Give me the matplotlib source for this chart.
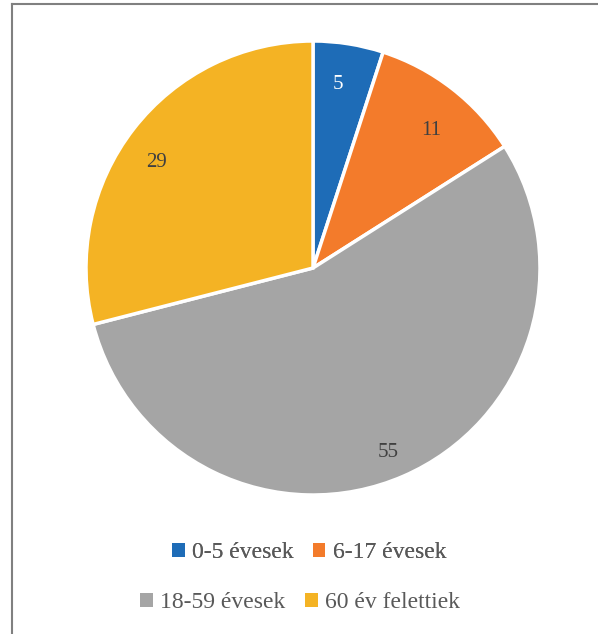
import matplotlib.pyplot as plt
from matplotlib.patches import Patch
from matplotlib.lines import Line2D

labels = ["0-5 évesek", "6-17 évesek", "18-59 évesek", "60 év felettiek"]
values = [5, 11, 55, 29]
colors = ["#1E6CB7", "#F37B2B", "#A5A5A5", "#F4B324"]
label_colors = ["white", "#404040", "#404040", "#404040"]

plt.rcParams['font.family'] = ['Liberation Serif', 'DejaVu Serif']

W, H = 598, 634
fig = plt.figure(figsize=(W / 100, H / 100), dpi=100)

# pie centre and radius in pixels (from top-left)
cx, cy, r = 313, 268, 227
ax = fig.add_axes([(cx - r) / W, (H - cy - r) / H, 2 * r / W, 2 * r / H])

wedges, texts, autotexts = ax.pie(
    values, colors=colors, startangle=90, counterclock=False,
    autopct=lambda p: "{:.0f}".format(p), pctdistance=0.82,
    wedgeprops=dict(edgecolor="white", linewidth=2.5))
for t, c in zip(autotexts, label_colors):
    t.set_color(c)
    t.set_fontsize(15)
# small nudges so labels sit where the original put them
nudges = [(-0.02, 0.0), (0.02, -0.04), (-0.02, -0.0), (-0.04, -0.04)]
for t, (dx, dy) in zip(autotexts, nudges):
    x, y = t.get_position()
    t.set_position((x + dx, y + dy))
x, y = autotexts[2].get_position()
autotexts[2].set_position((x * 1.08, y * 1.08))
ax.set_xlim(-1, 1)
ax.set_ylim(-1, 1)
ax.set_aspect("equal")

# chart border (only top and left visible)
fig.add_artist(Line2D([12 / W, 12 / W], [0, 1 - 4 / H], transform=fig.transFigure,
                      color="#808080", lw=1.5))
fig.add_artist(Line2D([12 / W, 1], [1 - 4 / H, 1 - 4 / H], transform=fig.transFigure,
                      color="#808080", lw=1.5))

handles = [Patch(facecolor=c, edgecolor="none") for c in colors]
leg_kw = dict(ncol=2, frameon=False, fontsize=17, handlelength=0.55, handleheight=0.55,
              handletextpad=0.3, columnspacing=0.8, labelcolor="#595959")
leg1 = fig.legend(handles[:2], labels[:2], loc="center", bbox_to_anchor=(309 / W, 1 - 553 / H), **leg_kw)
fig.add_artist(leg1)
fig.legend(handles[2:], labels[2:], loc="center", bbox_to_anchor=(300 / W, 1 - 603 / H), **leg_kw)

fig.savefig("out.png", dpi=100)
